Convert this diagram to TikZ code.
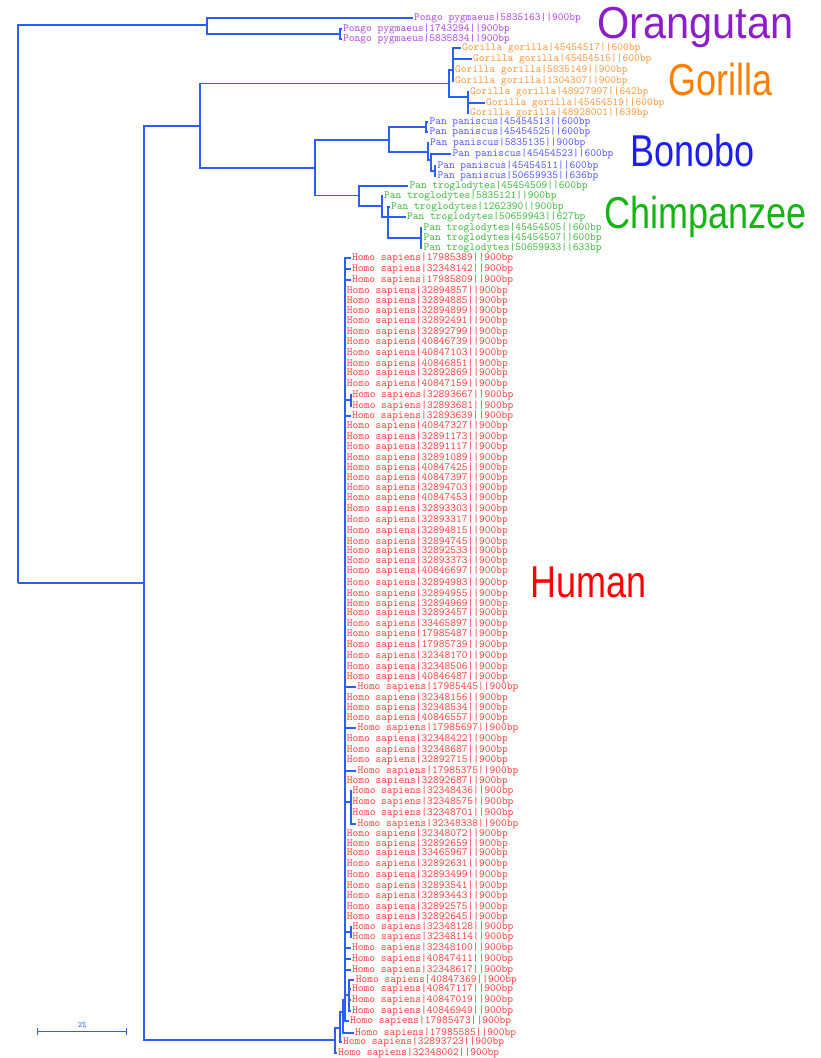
\documentclass[tikz,border=0pt]{standalone}
\usepackage{fontspec}
\usepackage{graphicx}
\setmainfont{Liberation Sans}
\usetikzlibrary{arrows.meta}
\definecolor{treeC}{RGB}{45,95,245}
\definecolor{pongoC}{RGB}{175,70,225}
\definecolor{pongoB}{RGB}{140,30,200}
\definecolor{gorC}{RGB}{255,150,60}
\definecolor{gorB}{RGB}{255,128,0}
\definecolor{bonC}{RGB}{85,85,255}
\definecolor{bonB}{RGB}{30,30,240}
\definecolor{chiC}{RGB}{60,185,60}
\definecolor{chiB}{RGB}{20,180,20}
\definecolor{homC}{RGB}{255,60,60}
\definecolor{homB}{RGB}{255,0,0}
\newcommand{\vs}[1]{#1}
\newcommand{\vb}[1]{\scalebox{1}[1.24]{#1}}
\tikzset{
  br/.style={draw=treeC, line width=1.9pt},
  lf/.style={anchor=west, inner xsep=1.5pt, inner ysep=0pt, font=\ttfamily\fontsize{10.95}{11}\selectfont},
  po/.style={lf, text=pongoC},
  go/.style={lf, text=gorC},
  bo/.style={lf, text=bonC},
  ch/.style={lf, text=chiC},
  ho/.style={lf, text=homC},
  big/.style={anchor=base west, inner sep=0pt, font=\fontsize{36}{40}\selectfont},
  sbl/.style={inner sep=0pt, text=treeC, font=\ttfamily\fontsize{8}{9}\selectfont}
}
\begin{document}
\begin{tikzpicture}[x=1pt,y=-1pt]
\useasboundingbox (0,0) rectangle (821,1058);

% ---------- internal nodes ----------
\coordinate (root) at (18,583);
\coordinate (PN) at (207,25);
\coordinate (P23) at (340,34);
\coordinate (A) at (144,583);
\coordinate (B) at (200,126.3);
\coordinate (G0) at (449,83.5);
\coordinate (G1) at (453,70);
\coordinate (G2) at (468,97);
\coordinate (PanN) at (315,167.7);
\coordinate (BoN) at (389,140);
\coordinate (B1) at (426,127.3);
\coordinate (B2) at (428,151.7);
\coordinate (B3) at (431,160);
\coordinate (B4) at (435,170.7);
\coordinate (C0) at (359,195.5);
\coordinate (C1) at (382,206);
\coordinate (C2) at (388,216.7);
\coordinate (C3) at (421,238.3);
\coordinate (Hroot) at (335,1040);
\coordinate (Ha) at (340,1028);
\coordinate (Hb) at (343,1012);
\coordinate (Hc) at (345,1000);
\coordinate (S1) at (350.7,400);
\coordinate (S2) at (350.7,801.7);
\coordinate (S3) at (350.7,932);
\coordinate (S4) at (349.3,995);

% ---------- leaves ----------
\node[po] (p1) at (412.5,18) {\vs{Pongo pygmaeus|5835163||900bp}};
\node[po] (p2) at (341.5,29) {\vs{Pongo pygmaeus|1743294||900bp}};
\node[po] (p3) at (341.5,39) {\vs{Pongo pygmaeus|5835834||900bp}};

\node[go] (g1) at (460.5,48.3) {\vs{Gorilla gorilla|45454517||600bp}};
\node[go] (g2) at (471.5,59) {\vs{Gorilla gorilla|45454515||600bp}};
\node[go] (g3) at (453.5,70) {\vs{Gorilla gorilla|5835149||900bp}};
\node[go] (g4) at (453.5,80.7) {\vs{Gorilla gorilla|1304307||900bp}};
\node[go] (g5) at (468.5,92) {\vs{Gorilla gorilla|48927997||642bp}};
\node[go] (g6) at (484.5,102.7) {\vs{Gorilla gorilla|45454519||600bp}};
\node[go] (g7) at (468.5,113.3) {\vs{Gorilla gorilla|48928001||639bp}};

\node[bo] (b1) at (427.8,122.3) {\vs{Pan paniscus|45454513||600bp}};
\node[bo] (b2) at (427.8,132.3) {\vs{Pan paniscus|45454525||600bp}};
\node[bo] (b3) at (428.5,143.3) {\vs{Pan paniscus|5835135||900bp}};
\node[bo] (b4) at (450.8,154) {\vs{Pan paniscus|45454523||600bp}};
\node[bo] (b5) at (435.8,165.7) {\vs{Pan paniscus|45454511||600bp}};
\node[bo] (b6) at (435.8,175.7) {\vs{Pan paniscus|50659935||636bp}};

\node[ch] (c1) at (407.8,185.7) {\vs{Pan troglodytes|45454509||600bp}};
\node[ch] (c2) at (382.5,195.7) {\vs{Pan troglodytes|5835121||900bp}};
\node[ch] (c3) at (389.5,206.7) {\vs{Pan troglodytes|1262390||900bp}};
\node[ch] (c4) at (405.5,216.7) {\vs{Pan troglodytes|50659943||627bp}};
\node[ch] (c5) at (421.8,228.3) {\vs{Pan troglodytes|45454505||600bp}};
\node[ch] (c6) at (421.8,238.3) {\vs{Pan troglodytes|45454507||600bp}};
\node[ch] (c7) at (421.8,247.7) {\vs{Pan troglodytes|50659933||633bp}};

\foreach \i/\y/\x/\id in {
 1/258.3/352/17985389, 2/269/352/32348142, 3/280/352/17985809,
 4/291/346.7/32894857, 5/301/346.7/32894885, 6/310.7/346.7/32894899,
 7/320.7/346.7/32892491, 8/331.7/346.7/32892799, 9/342.3/346.7/40846739,
 10/353.3/346.7/40847103, 11/364/346.7/40846851, 12/373.3/346.7/32892869,
 13/384.3/346.7/40847159, 14/395/352.3/32893667, 15/405.7/352.3/32893681,
 16/415.7/352/32893639, 17/425.5/346.7/40847327, 18/436.7/346.7/32891173,
 19/446.7/346.7/32891117, 20/457.7/346.7/32891089, 21/467.7/346.7/40847425,
 22/478.3/346.7/40847397, 23/487.7/346.7/32894703, 24/498.3/346.7/40847453,
 25/509.3/346.7/32893303, 26/520/346.7/32893317, 27/531/346.7/32894815,
 28/541.7/346.7/32894745, 29/550.7/346.7/32892533, 30/561/346.7/32893373,
 31/571/346.7/40846697, 32/582.5/346.7/32894983, 33/594/346.7/32894955,
 34/604.3/346.7/32894969, 35/613.3/346.7/32893457, 36/624/346.7/33465897,
 37/634.3/346.7/17985487, 38/645/346.7/17985739, 39/656/346.7/32348170,
 40/666.7/346.7/32348506, 41/676.7/346.7/40846487, 42/687.3/357.3/17985445,
 43/697.7/346.7/32348156, 44/708.3/346.7/32348534, 45/718.3/346.7/40846557,
 46/728.3/357.3/17985697, 47/739/346.7/32348422, 48/749.5/346.7/32348687,
 49/760/346.7/32892715, 50/771/357.3/17985375, 51/781/346.7/32892687,
 52/791/352.3/32348436, 53/801.7/352.3/32348575, 54/812.7/352.3/32348701,
 55/823.7/357.3/32348338, 56/834.3/346.7/32348072, 57/844.3/346.7/32892659,
 58/853.3/346.7/33465967, 59/864/346.7/32892631, 60/875/346.7/32893499,
 61/885.7/346.7/32893541, 62/896/346.7/32893443, 63/906.7/346.7/32892575,
 64/916.7/346.7/32892645, 65/926.7/352.3/32348128, 66/937.3/352.3/32348114,
 67/948.3/352/32348100, 68/959.3/352/40847411, 69/970/352/32348617,
 70/980/355.7/40847369, 71/989.3/352/40847117, 72/1000/352/40847019,
 73/1010.7/352/40846949, 74/1020.7/350/17985473, 75/1032.7/355/17985585,
 76/1042.3/343/32893723, 77/1052.7/338/32348002}
 {\node[ho] (h\i) at (\x-1.5,\y) {\vs{Homo sapiens|\id||900bp}};}

% ---------- branches ----------
\draw[br] (root) |- (PN);
\draw[br] (root) |- (A);
\draw[br] (PN) |- (p1.west);
\draw[br] (PN) |- (P23);
\draw[br] (P23) |- (p2.west);
\draw[br] (P23) |- (p3.west);
\draw[br] (A) |- (B);
\draw[br] (A) |- (Hroot);
\draw[br] (B) |- (G0);
\draw[br] (B) |- (PanN);
\draw[br] (G0) |- (G1);
\draw[br] (G0) |- (G2);
\foreach \n in {g1,g2,g3,g4} \draw[br] (G1) |- (\n.west);
\foreach \n in {g5,g6,g7} \draw[br] (G2) |- (\n.west);
\draw[br] (PanN) |- (BoN);
\draw[br] (PanN) |- (C0);
\draw[br] (BoN) |- (B1);
\draw[br] (BoN) |- (B2);
\draw[br] (B1) |- (b1.west);
\draw[br] (B1) |- (b2.west);
\draw[br] (B2) |- (b3.west);
\draw[br] (B2) |- (B3);
\draw[br] (B3) |- (b4.west);
\draw[br] (B3) |- (B4);
\draw[br] (B4) |- (b5.west);
\draw[br] (B4) |- (b6.west);
\draw[br] (C0) |- (c1.west);
\draw[br] (C0) |- (C1);
\draw[br] (C1) |- (c2.west);
\draw[br] (C1) |- (C2);
\draw[br] (C2) |- (c3.west);
\draw[br] (C2) |- (c4.west);
\draw[br] (C2) |- (C3);
\foreach \n in {c5,c6,c7} \draw[br] (C3) |- (\n.west);

\draw[br] (Hroot) |- (h77.west);
\draw[br] (Hroot) |- (Ha);
\draw[br] (Ha) |- (h76.west);
\draw[br] (Ha) |- (Hb);
\draw[br] (Hb) |- (h75.west);
\draw[br] (Hb) |- (Hc);
\foreach \i in {1,...,13,16,17,...,51,56,57,...,64,67,68,69,74}
  \draw[br] (Hc) |- (h\i.west);
\draw[br] (Hc) |- (S1);
\draw[br] (Hc) |- (S2);
\draw[br] (Hc) |- (S3);
\draw[br] (Hc) |- (S4);
\foreach \i in {14,15} \draw[br] (S1) |- (h\i.west);
\foreach \i in {52,53,54,55} \draw[br] (S2) |- (h\i.west);
\foreach \i in {65,66} \draw[br] (S3) |- (h\i.west);
\foreach \i in {70,71,72,73} \draw[br] (S4) |- (h\i.west);

% ---------- scale bar ----------
\coordinate (sb1) at (36.7,1031.7);
\coordinate (sb2) at (127.3,1031.7);
\draw[br, line width=1.5pt, {Bar[width=7pt]}-{Bar[width=7pt]}] (sb1) -- (sb2);
\node[sbl] (sbt) at (82,1025.5) {2\%};

% ---------- group labels ----------
\node[big, text=pongoB] (orang) at (597,38) {\scalebox{1}[1.08]{\fontsize{41.5}{44}\selectfont Orangutan}};
\node[big, text=gorB] (gor) at (668,95) {\vb{Gorilla}};
\node[big, text=bonB] (bon) at (630,166) {\vb{Bonobo}};
\node[big, text=chiB] (chi) at (604,228) {\vb{Chimpanzee}};
\node[big, text=homB] (hum) at (530,597) {\vb{Human}};
\end{tikzpicture}
\end{document}
